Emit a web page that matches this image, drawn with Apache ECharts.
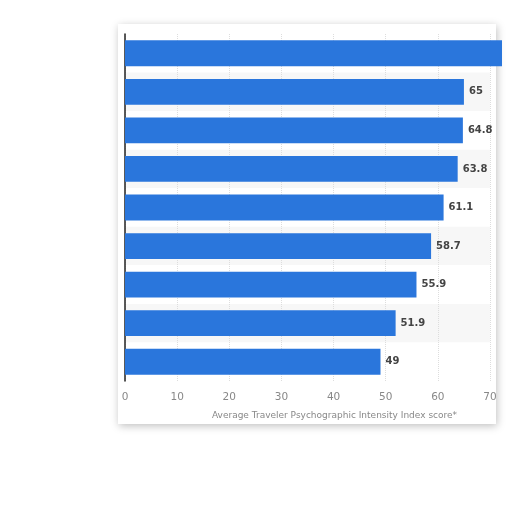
<!DOCTYPE html>
<html>
<head>
<meta charset="utf-8">
<script src="https://cdn.jsdelivr.net/npm/echarts@6/dist/echarts.min.js"></script>
<style>
  html, body { margin: 0; padding: 0; background: #fff; }
  #chart { width: 512px; height: 512px; }
</style>
</head>
<body>
<div id="chart"></div>
<script>
// rows top to bottom; category names are torn off in the source
const categories = ['r1', 'r2', 'r3', 'r4', 'r5', 'r6', 'r7', 'r8', 'r9'];
const scores = [72.3, 65, 64.8, 63.8, 61.1, 58.7, 55.9, 51.9, 49];
const showLabel = [false, true, true, true, true, true, true, true, true];
const xTicks = [0, 10, 20, 30, 40, 50, 60, 70];
const axisTitle = 'Average Traveler Psychographic Intensity Index score*';

const chart = echarts.init(document.getElementById('chart'));

chart.setOption({
  animation: false,
  graphic: [{
    type: 'rect',
    z: -10,
    shape: { x: 118, y: 24, width: 378, height: 400 },
    style: {
      fill: '#fff',
      shadowBlur: 8,
      shadowColor: 'rgba(0,0,0,0.25)',
      shadowOffsetX: 1,
      shadowOffsetY: 2
    }
  }],
  grid: { left: 125, right: 22, top: 34, bottom: 131 },
  xAxis: {
    type: 'value',
    min: xTicks[0],
    max: xTicks[xTicks.length - 1],
    interval: 10,
    name: axisTitle,
    nameLocation: 'middle',
    nameGap: 30,
    nameTextStyle: {
      color: '#888', fontSize: 9, fontFamily: 'DejaVu Sans',
      align: 'center', padding: [0, 0, 0, 54]
    },
    axisLine: { show: false },
    axisTick: { show: false },
    axisLabel: { color: '#888', fontSize: 10.5, fontFamily: 'DejaVu Sans', margin: 11 },
    splitLine: { lineStyle: { color: '#ddd', type: 'dotted' } }
  },
  yAxis: {
    type: 'category',
    data: categories,
    inverse: true,
    axisLine: { lineStyle: { color: '#222', width: 1.5 } },
    axisTick: { show: false },
    axisLabel: { show: false },
    splitArea: { show: true, areaStyle: { color: ['#fff', '#f7f7f7'] } }
  },
  series: [{
    type: 'bar',
    clip: false,
    barWidth: '67%',
    data: scores.map((v, i) => ({
      value: v,
      label: { show: showLabel[i] }
    })),
    itemStyle: { color: '#2a76dc' },
    label: {
      position: 'right',
      distance: 5,
      color: '#444',
      fontSize: 10,
      fontWeight: 'bold',
      fontFamily: 'DejaVu Sans'
    }
  }]
});
</script>
</body>
</html>
